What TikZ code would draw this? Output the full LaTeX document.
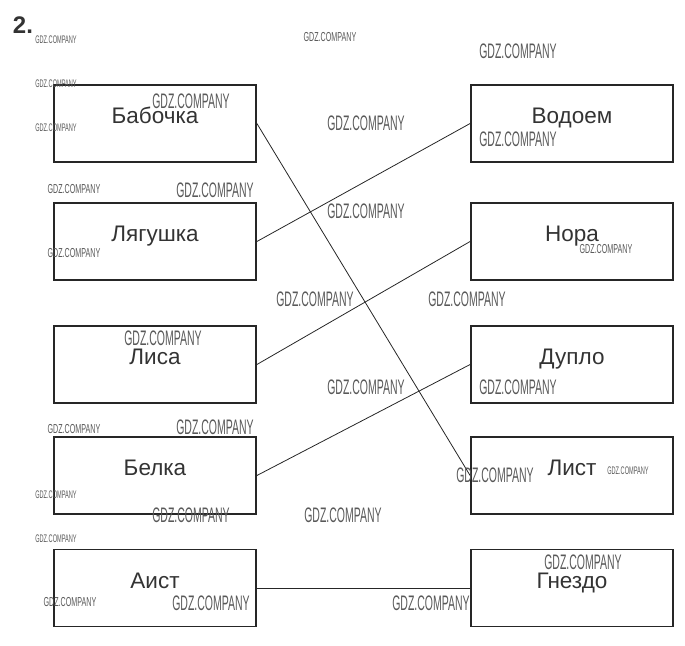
\documentclass[tikz,border=0pt]{standalone}
\usepackage{fontspec}
\setmainfont{Liberation Sans}
\usepackage{graphicx}

\begin{document}
\begin{tikzpicture}[x=1pt, y=-1pt]

% Set the overall frame of the picture
\useasboundingbox (0,0) rectangle (685,645);

% Define styles for the boxes and the links
\tikzstyle{box} = [rectangle, draw=black!85, line width=1.8pt, minimum width=202pt, minimum height=77pt, inner sep=0pt, text height=15pt, text depth=15pt, font=\fontsize{22.5}{22.5}\selectfont, text=black!80]
\tikzstyle{link} = [draw=black!85, line width=0.8pt]

%Define watermark texts in grey
\tikzstyle{wmbig}=[inner sep=0pt, text=black!65, font=\fontsize{21}{21}\selectfont]
\tikzstyle{wmmid}=[inner sep=0pt, text=black!65, font=\fontsize{13}{13}\selectfont]
\tikzstyle{wmsmall}=[inner sep=0pt, text=black!65, font=\fontsize{11}{11}\selectfont]

\node[font=\fontsize{24}{24}\selectfont\bfseries, text=black!80] (num) at (23,25) {2.};

% Left column
\node[box] (l1) at (155,123.5) {Бабочка};
\node[box] (l2) at (155,241.5) {Лягушка};
\node[box] (l3) at (155,364.5) {Лиса};
\node[box] (l4) at (155,475.5) {Белка};
\node[box] (l5) at (155,588) {Аист};

% Right column
\node[box] (r1) at (572,123.5) {Водоем};
\node[box] (r2) at (572,241.5) {Нора};
\node[box] (r3) at (572,364.5) {Дупло};
\node[box] (r4) at (572,475.5) {Лист};
\node[box] (r5) at (572,588) {Гнездо};

% Links
\draw[link] (l1.east) -- (r4.west);
\draw[link] (l2.east) -- (r1.west);
\draw[link] (l3.east) -- (r2.west);
\draw[link] (l4.east) -- (r3.west);
\draw[link] (l5.east) -- (r5.west);

% Watermarks
\foreach \px/\py [count=\i] in {191/101, 518/51, 366/123, 518/139, 215/190, 366/211, 315/299, 467/299, 163/338, 366/387, 518/387, 215/427, 495/475, 191/515, 343/515, 583/562, 211/603, 431/603}
  \node[wmbig] (big\i) at (\px,\py) {\scalebox{0.5}[1]{GDZ.COMPANY}};
\foreach \px/\py [count=\i] in {330/37, 74/189, 74/253, 606/249, 74/429, 70/602}
  \node[wmmid] (mid\i) at (\px,\py) {\scalebox{0.55}[1]{GDZ.COMPANY}};
\foreach \px/\py [count=\i] in {56/40, 56/84, 56/128, 56/495, 56/539, 628/471}
  \node[wmsmall] (small\i) at (\px,\py) {\scalebox{0.51}[1]{GDZ.COMPANY}};

\end{tikzpicture}
\end{document}
